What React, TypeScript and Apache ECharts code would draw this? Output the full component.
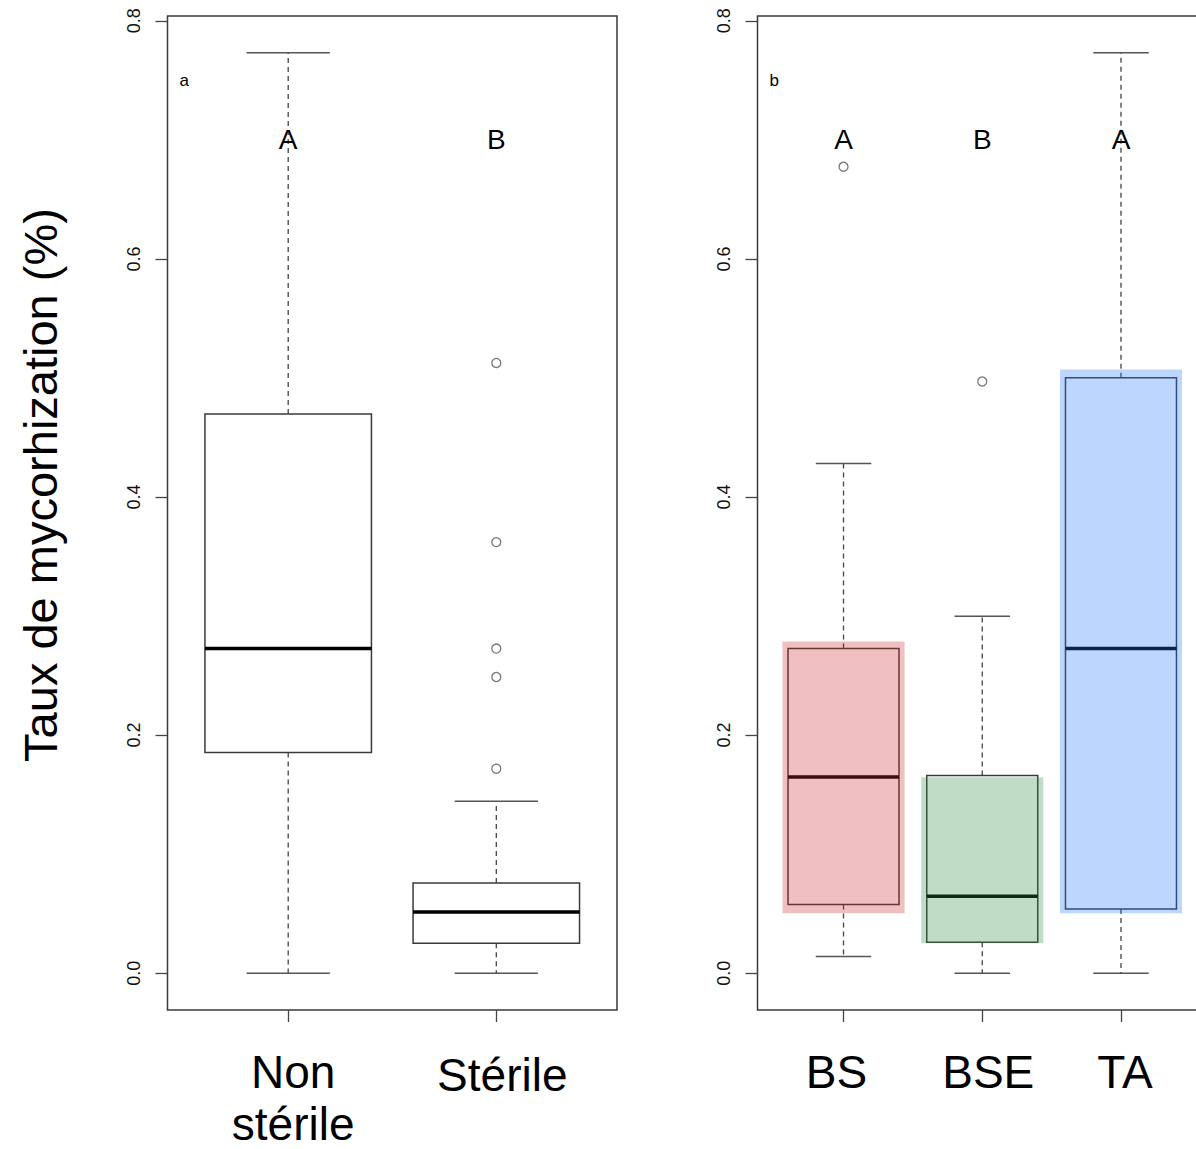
import React, { useEffect, useRef } from "react";
import * as echarts from "echarts";

// ---------- data ----------
const yTicks = [0, 0.2, 0.4, 0.6, 0.8];
const yLabel = "Taux de mycorhization (%)";

// panel a
const groupsA = ["Non\nstérile", "Stérile"];
const lowA = [0, 0];
const q1A = [0.1853, 0.0252];
const medA = [0.2727, 0.0515];
const q3A = [0.4698, 0.0758];
const highA = [0.7731, 0.1444];
const outliersA: number[][] = [[], [0.1718, 0.2488, 0.2727, 0.3621, 0.5126]];
const lettersA = ["A", "B"];
const panelTagA = "a";

// panel b
const groupsB = ["BS", "BSE", "TA"];
const lowB = [0.014, 0, 0];
const q1B = [0.0577, 0.026, 0.054];
const medB = [0.1648, 0.0646, 0.2727];
const q3B = [0.2727, 0.166, 0.5001];
const highB = [0.4281, 0.2999, 0.7731];
const outliersB: number[][] = [[0.6774], [0.497], []];
const lettersB = ["A", "B", "A"];
const panelTagB = "b";
const highlightTop = [0.2787, 0.1645, 0.507];
const highlightBottom = [0.0504, 0.0252, 0.0504];
const highlightColors = [
  "rgba(205,42,42,0.3)",
  "rgba(45,138,65,0.3)",
  "rgba(38,118,252,0.3)",
];

// ---------- style ----------
const FONT = '"Liberation Sans", Arial, Helvetica, sans-serif';
const LINE = "#3a3a3a";
const Y_MIN = -0.0309;
const Y_MAX = 0.804;
const LETTER_Y = 0.7;
const TAG_POS = [0.5, 0.75];

function boxData(low: number[], q1: number[], med: number[], q3: number[], high: number[]) {
  return low.map((_, i) => [i + 1, low[i], q1[i], med[i], q3[i], high[i]]);
}
function outlierData(out: number[][]) {
  const res: number[][] = [];
  out.forEach((arr, i) => arr.forEach((v) => res.push([i + 1, v])));
  return res;
}

function renderBox(params: any, api: any) {
  const x = api.value(0);
  const lo = api.value(1);
  const q1 = api.value(2);
  const med = api.value(3);
  const q3 = api.value(4);
  const hi = api.value(5);
  const [cx, yLo] = api.coord([x, lo]);
  const yQ1 = api.coord([x, q1])[1];
  const yMed = api.coord([x, med])[1];
  const yQ3 = api.coord([x, q3])[1];
  const yHi = api.coord([x, hi])[1];
  const half = api.size([0.4, 0])[0];
  const cap = api.size([0.2, 0])[0];
  const dash = { stroke: "#444", lineWidth: 1.3, lineDash: [5, 4] };
  const capStyle = { stroke: "#555", lineWidth: 1.5 };
  return {
    type: "group",
    children: [
      { type: "line", shape: { x1: cx, y1: yQ3, x2: cx, y2: yHi }, style: dash },
      { type: "line", shape: { x1: cx, y1: yQ1, x2: cx, y2: yLo }, style: dash },
      { type: "line", shape: { x1: cx - cap, y1: yHi, x2: cx + cap, y2: yHi }, style: capStyle },
      { type: "line", shape: { x1: cx - cap, y1: yLo, x2: cx + cap, y2: yLo }, style: capStyle },
      {
        type: "rect",
        shape: { x: cx - half, y: yQ3, width: 2 * half, height: yQ1 - yQ3 },
        style: { fill: "#fff", stroke: LINE, lineWidth: 1.5 },
      },
      {
        type: "line",
        shape: { x1: cx - half, y1: yMed, x2: cx + half, y2: yMed },
        style: { stroke: "#000", lineWidth: 3.5 },
      },
    ],
  };
}

function renderHighlight(params: any, api: any) {
  const x = api.value(0);
  const top = api.value(1);
  const bottom = api.value(2);
  const idx = params.dataIndex;
  const [cx, yTop] = api.coord([x, top]);
  const yBot = api.coord([x, bottom])[1];
  const half = api.size([0.44, 0])[0];
  return {
    type: "rect",
    shape: { x: cx - half, y: yTop, width: 2 * half, height: yBot - yTop },
    style: { fill: highlightColors[idx] },
  };
}

function makeTextRenderer(texts: string[], fontSize: number) {
  return (params: any, api: any) => {
    const [px, py] = api.coord([api.value(0), api.value(1)]);
    return {
      type: "text",
      x: px,
      y: py,
      style: {
        text: texts[params.dataIndex],
        fontSize,
        fontFamily: FONT,
        fill: "#000",
        align: "center",
        verticalAlign: "middle",
      },
    };
  };
}

function xLabelFormatter(groups: string[]) {
  return (value: number) => {
    const i = Math.round(value) - 1;
    if (i < 0 || i >= groups.length) return "";
    return groups[i]
      .split("\n")
      .map((l) => `{s${i}|${l}}`)
      .join("\n");
  };
}

function richFor(pads: number[][]) {
  const r: any = {};
  pads.forEach((p, i) => {
    r["s" + i] = { fontSize: 46, lineHeight: 52, fontFamily: FONT, color: "#000", padding: p };
  });
  return r;
}

export default function App() {
  const ref = useRef<HTMLDivElement>(null);

  useEffect(() => {
    if (!ref.current) return;
    const chart = echarts.init(ref.current, null, { renderer: "svg" });

    const xTicksA = groupsA.map((_, i) => i + 1);
    const xTicksB = groupsB.map((_, i) => i + 1);

    const makeY = (gi: number) => ({
      type: "value",
      gridIndex: gi,
      min: Y_MIN,
      max: Y_MAX,
      splitLine: { show: false },
      axisLine: { show: false, onZero: false },
      axisTick: {
        show: true,
        inside: false,
        length: 12,
        customValues: yTicks,
        lineStyle: { color: "#444", width: 1.3 },
      },
      axisLabel: {
        show: true,
        customValues: yTicks,
        rotate: 90,
        margin: 25,
        fontSize: 18,
        fontFamily: FONT,
        color: "#111",
        formatter: (v: number) => v.toFixed(1),
      },
    });

    const makeX = (gi: number, min: number, max: number, ticks: number[], groups: string[], pads: number[][]) => ({
      type: "value",
      gridIndex: gi,
      min,
      max,
      position: "bottom",
      splitLine: { show: false },
      axisLine: { show: false, onZero: false },
      axisTick: {
        show: true,
        inside: false,
        length: 12,
        customValues: ticks,
        lineStyle: { color: "#444", width: 1.3 },
      },
      axisLabel: {
        show: true,
        customValues: ticks,
        margin: 36,
        formatter: xLabelFormatter(groups),
        rich: richFor(pads),
      },
    });

    const option: any = {
      animation: false,
      backgroundColor: "#fff",
      grid: [
        { left: 167.5, top: 16, width: 449.5, height: 994, show: true, borderColor: LINE, borderWidth: 1.5, backgroundColor: "transparent" },
        { left: 757.5, top: 16, width: 449.5, height: 994, show: true, borderColor: LINE, borderWidth: 1.5, backgroundColor: "transparent" },
      ],
      xAxis: [
        makeX(0, 0.42, 2.58, xTicksA, groupsA, [[0, 0, 0, 10], [6, 0, 0, 12]]),
        makeX(1, 0.38, 3.62, xTicksB, groupsB, [[0, 14, 0, 0], [0, 0, 0, 12], [0, 0, 0, 8]]),
      ],
      yAxis: [makeY(0), makeY(1)],
      graphic: [
        {
          type: "text",
          x: 40,
          y: 485,
          rotation: Math.PI / 2,
          style: {
            text: yLabel,
            fontSize: 47,
            fontFamily: FONT,
            fill: "#000",
            align: "center",
            verticalAlign: "middle",
          },
        },
      ],
      series: [
        {
          type: "custom",
          xAxisIndex: 0,
          yAxisIndex: 0,
          renderItem: renderBox,
          data: boxData(lowA, q1A, medA, q3A, highA),
          encode: { x: 0, y: [1, 2, 3, 4, 5] },
          z: 2,
        },
        {
          type: "scatter",
          xAxisIndex: 0,
          yAxisIndex: 0,
          data: outlierData(outliersA),
          symbol: "circle",
          symbolSize: 9,
          itemStyle: { color: "rgba(0,0,0,0)", borderColor: "#555", borderWidth: 1.3 },
          z: 3,
        },
        {
          type: "custom",
          xAxisIndex: 0,
          yAxisIndex: 0,
          renderItem: makeTextRenderer(lettersA, 28),
          data: lettersA.map((_, i) => [i + 1, LETTER_Y]),
          z: 4,
        },
        {
          type: "custom",
          xAxisIndex: 0,
          yAxisIndex: 0,
          renderItem: makeTextRenderer([panelTagA], 17),
          data: [TAG_POS],
          z: 4,
        },
        {
          type: "custom",
          xAxisIndex: 1,
          yAxisIndex: 1,
          renderItem: renderBox,
          data: boxData(lowB, q1B, medB, q3B, highB),
          encode: { x: 0, y: [1, 2, 3, 4, 5] },
          z: 2,
        },
        {
          type: "custom",
          xAxisIndex: 1,
          yAxisIndex: 1,
          renderItem: renderHighlight,
          data: groupsB.map((_, i) => [i + 1, highlightTop[i], highlightBottom[i]]),
          encode: { x: 0, y: [1, 2] },
          z: 3,
        },
        {
          type: "scatter",
          xAxisIndex: 1,
          yAxisIndex: 1,
          data: outlierData(outliersB),
          symbol: "circle",
          symbolSize: 9,
          itemStyle: { color: "rgba(0,0,0,0)", borderColor: "#555", borderWidth: 1.3 },
          z: 4,
        },
        {
          type: "custom",
          xAxisIndex: 1,
          yAxisIndex: 1,
          renderItem: makeTextRenderer(lettersB, 28),
          data: lettersB.map((_, i) => [i + 1, LETTER_Y]),
          z: 5,
        },
        {
          type: "custom",
          xAxisIndex: 1,
          yAxisIndex: 1,
          renderItem: makeTextRenderer([panelTagB], 17),
          data: [TAG_POS],
          z: 5,
        },
      ],
    };

    chart.setOption(option);
    return () => chart.dispose();
  }, []);

  return (
    <div
      style={{
        position: "fixed",
        left: 0,
        top: 0,
        width: 1196,
        height: 1149,
        overflow: "hidden",
        background: "#fff",
      }}
    >
      <div ref={ref} style={{ width: 1230, height: 1149 }} />
    </div>
  );
}
